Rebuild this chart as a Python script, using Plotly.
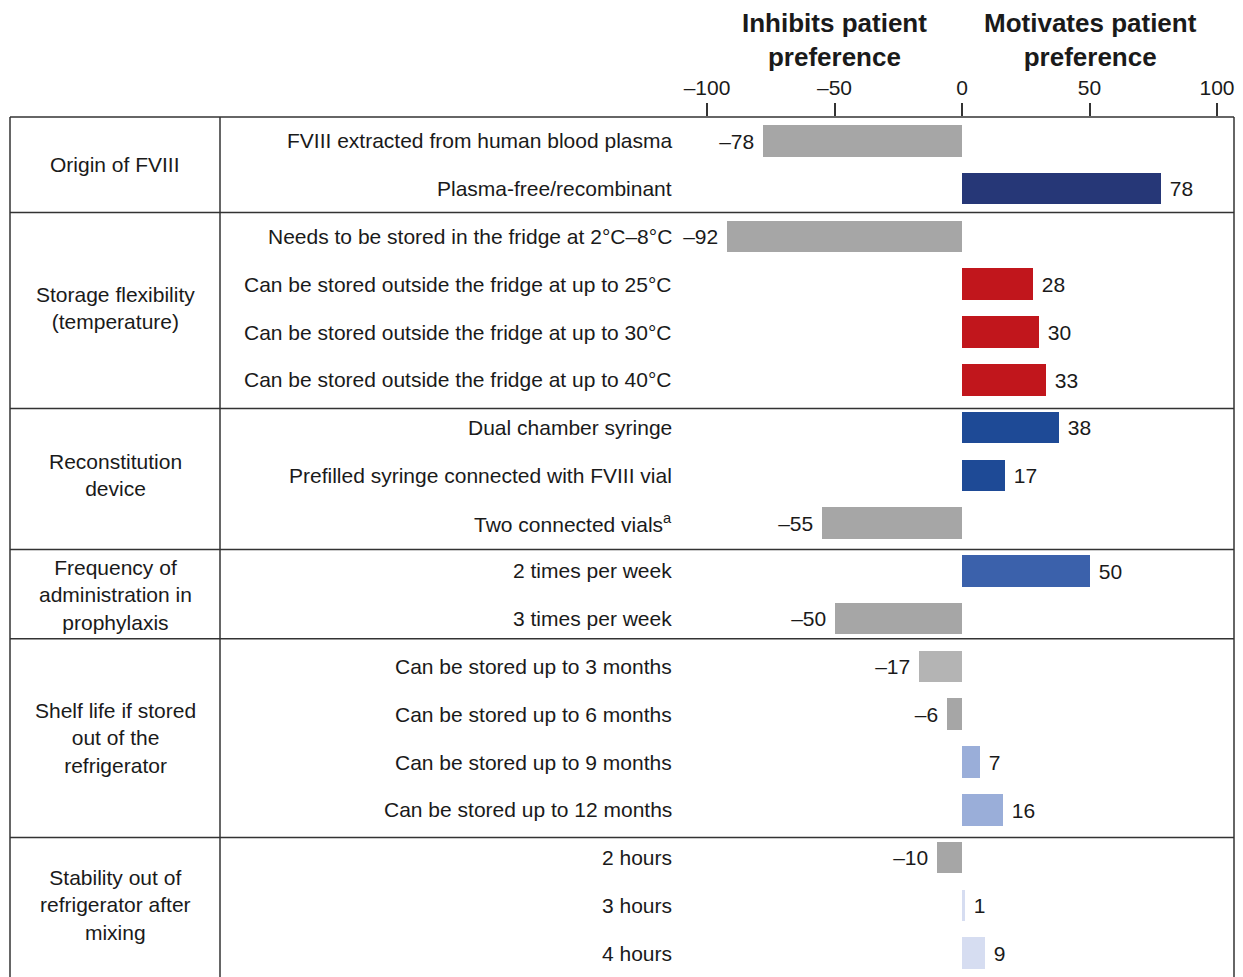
import plotly.graph_objects as go

# ---------------- data ----------------
groups = [
    "Origin of FVIII",
    "Storage flexibility<br>(temperature)",
    "Reconstitution<br>device",
    "Frequency of<br>administration in<br>prophylaxis",
    "Shelf life if stored<br>out of the<br>refrigerator",
    "Stability out of<br>refrigerator after<br>mixing",
]
group_sizes = [2, 4, 3, 2, 4, 3]

levels = [
    "FVIII extracted from human blood plasma",
    "Plasma-free/recombinant",
    "Needs to be stored in the fridge at 2°C–8°C",
    "Can be stored outside the fridge at up to 25°C",
    "Can be stored outside the fridge at up to 30°C",
    "Can be stored outside the fridge at up to 40°C",
    "Dual chamber syringe",
    "Prefilled syringe connected with FVIII vial",
    "Two connected vials<sup>a</sup>",
    "2 times per week",
    "3 times per week",
    "Can be stored up to 3 months",
    "Can be stored up to 6 months",
    "Can be stored up to 9 months",
    "Can be stored up to 12 months",
    "2 hours",
    "3 hours",
    "4 hours",
]
values = [-78, 78, -92, 28, 30, 33, 38, 17, -55, 50, -50, -17, -6, 7, 16, -10, 1, 9]
colors = [
    "#a6a6a6", "#263777",
    "#a6a6a6", "#c1161c", "#c1161c", "#c1161c",
    "#1e4a96", "#1e4a96", "#a6a6a6",
    "#3b61ab", "#a6a6a6",
    "#b4b4b4", "#a6a6a6", "#9aaed9", "#9aaed9",
    "#a6a6a6", "#d6ddf1", "#d6ddf1",
]
tick_vals = [-100, -50, 0, 50, 100]
tick_text = ["–100", "–50", "0", "50", "100"]
header_left = "Inhibits patient<br>preference"
header_right = "Motivates patient<br>preference"

# ---------------- layout geometry ----------------
OX, OY = 8, 8                 # page body margin
W, H = 1243 - OX, 977 - OY
TOP = 117                     # screen pixel y of table top / axis
FONT = "Liberation Sans, Arial, sans-serif"
TXT = "#1a1a1a"
LINE = "#333333"
# separator lines (row-boundary positions, slightly adjusted to the original drawing)
sep_pos = [1.5, 5.6, 8.55, 10.42, 14.58]

# x axis mapping on screen: -100 -> 707 px, 100 -> 1217 px
ppu = (1217 - 707) / 200.0
x0 = -100 - (707 - OX) / ppu
x1 = 100 + (1243 - 1217) / ppu


def px(xp):
    return (xp - OX) / W


def py(yp):
    return (977 - yp) / (977 - TOP)


rows = list(range(len(levels)))
NB = "\u00a0"
text_vals = [(NB + str(v)) if v >= 0 else (str(v).replace("-", "–") + NB) for v in values]

fig = go.Figure()
fig.add_trace(go.Bar(
    x=values, y=rows, orientation="h",
    marker=dict(color=colors, line=dict(width=0)),
    width=0.66,
    text=text_vals, textposition="outside",
    textfont=dict(family=FONT, size=21, color=TXT),
    cliponaxis=False,
    hoverinfo="skip",
))

annotations = []
for i, lab in enumerate(levels):
    annotations.append(dict(
        x=px(674), xref="paper", y=i, yref="y",
        text=lab, showarrow=False, xanchor="right", yanchor="middle",
        font=dict(family=FONT, size=21, color=TXT),
    ))

shapes = []
start = 0
for g, n in zip(groups, group_sizes):
    mid = start + (n - 1) / 2.0
    annotations.append(dict(
        x=px(115), xref="paper", y=mid, yref="y",
        text=g, showarrow=False, xanchor="center", yanchor="middle",
        align="center",
        font=dict(family=FONT, size=21, color=TXT),
    ))
    start += n

for s in sep_pos:
    shapes.append(dict(type="line", xref="paper", yref="y",
                       x0=px(10), x1=px(1234), y0=s, y1=s,
                       line=dict(color=LINE, width=1.5)))

# table frame
shapes.append(dict(type="line", xref="paper", yref="paper",
                   x0=px(10), x1=px(1234), y0=1, y1=1,
                   line=dict(color=LINE, width=1.5)))
for xp in (10, 220, 1234):
    shapes.append(dict(type="line", xref="paper", yref="paper",
                       x0=px(xp), x1=px(xp), y0=-0.01, y1=1,
                       line=dict(color=LINE, width=1.5)))

# headers
for txt, xc in ((header_left, 835), (header_right, 1090)):
    annotations.append(dict(x=px(xc), xref="paper", y=py(40), yref="paper",
                            text="<b>" + txt + "</b>", showarrow=False,
                            xanchor="center", yanchor="middle", align="center",
                            font=dict(family=FONT, size=26, color=TXT)))

fig.update_layout(
    width=W, height=H,
    margin=dict(l=0, r=0, t=TOP - OY, b=0, pad=0),
    paper_bgcolor="white", plot_bgcolor="white",
    showlegend=False,
    xaxis=dict(range=[x0, x1], side="top", tickvals=tick_vals, ticktext=tick_text,
               ticks="outside", ticklen=13, tickwidth=1.5, tickcolor=LINE,
               showgrid=False, zeroline=False, showline=False,
               tickfont=dict(family=FONT, size=21, color=TXT), fixedrange=True),
    yaxis=dict(range=[len(levels) - 0.5, -0.5], showticklabels=False, ticks="",
               showgrid=False, zeroline=False, showline=False, fixedrange=True),
    annotations=annotations,
    shapes=shapes,
    bargap=0,
)

fig.write_html("out.html")
